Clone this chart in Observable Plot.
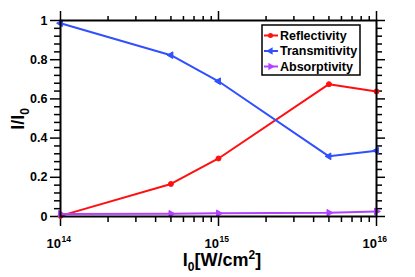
<!DOCTYPE html>
<html><head><meta charset="utf-8">
<script src="https://cdn.jsdelivr.net/npm/d3@7"></script>
<script src="https://cdn.jsdelivr.net/npm/@observablehq/plot@0.6"></script>
<style>
body{margin:0;background:#fff;}
#chart{width:415px;height:277px;}
</style></head><body><div id="chart"></div>
<script>
const intensity = [1e14, 5e14, 1e15, 5e15, 1e16];
const reflectivity = [0.003, 0.166, 0.296, 0.675, 0.638];
const transmitivity = [0.986, 0.823, 0.690, 0.307, 0.336];
const absorptivity = [0.013, 0.014, 0.016, 0.019, 0.026];

const seriesNames = ["Reflectivity", "Transmitivity", "Absorptivity"];
const seriesColors = ["#ff1010", "#3050ff", "#b440ff"];
const seriesSymbols = ["circle", "triangle", "triangle"];
const seriesRotate = [0, -90, 90];

const xTicks = [1e14, 1e15, 1e16];
const xTickBase = ["10", "10", "10"];
const xTickExp = ["14", "15", "16"];
const yTicks = [0, 0.2, 0.4, 0.6, 0.8, 1];
const yTickLabels = ["0", "0.2", "0.4", "0.6", "0.8", "1"];
const xMinorMult = [2, 3, 4, 5, 6, 7, 8, 9];
const yMinorStep = 0.04;

const FONT = '"Liberation Sans", Arial, Helvetica, sans-serif';

const allValues = [reflectivity, transmitivity, absorptivity];
const rows = [];
seriesNames.forEach((name, i) => {
  intensity.forEach((x, j) => rows.push({series: name, x, y: allValues[i][j], idx: i}));
});

const xMinor = [];
[1e14, 1e15].forEach(dec => xMinorMult.forEach(m => xMinor.push(m * dec)));
const yMinor = d3.range(0, 1 + 1e-9, yMinorStep).filter(v => Math.abs(v * 5 - Math.round(v * 5)) > 1e-6);

const plot = Plot.plot({
  width: 415, height: 277,
  marginLeft: 60, marginRight: 39, marginTop: 20, marginBottom: 61,
  style: {fontFamily: FONT, fontSize: "12px", fontWeight: "bold", background: "white", color: "black", overflow: "visible"},
  x: {type: "log", domain: [1e14, 1e16], label: null},
  y: {domain: [0, 1], label: null},
  color: {domain: seriesNames, range: seriesColors},
  symbol: {domain: seriesNames, range: seriesSymbols},
  marks: [
    Plot.axisY({ticks: yMinor, anchor: "left", tickSize: 6, tickFormat: () => "", label: null, strokeWidth: 1.5}),
    Plot.axisY({ticks: yTicks, anchor: "left", tickSize: 10, tickPadding: 3, tickFormat: (d) => yTickLabels[yTicks.indexOf(d)], label: null, strokeWidth: 1.5, fontSize: 12.5}),
    Plot.axisY({ticks: yMinor, anchor: "right", tickSize: 5, tickFormat: () => "", label: null, strokeWidth: 1.5}),
    Plot.axisY({ticks: yTicks, anchor: "right", tickSize: 8, tickFormat: () => "", label: null, strokeWidth: 1.5}),
    Plot.axisX({ticks: xMinor, anchor: "bottom", tickSize: 6, tickFormat: () => "", label: null, strokeWidth: 1.5}),
    Plot.axisX({ticks: xTicks, anchor: "bottom", tickSize: 10, tickFormat: () => "", label: null, strokeWidth: 1.5}),
    Plot.axisX({ticks: xMinor, anchor: "top", tickSize: 5, tickFormat: () => "", label: null, strokeWidth: 1.5}),
    Plot.axisX({ticks: xTicks, anchor: "top", tickSize: 10, tickFormat: () => "", label: null, strokeWidth: 1.5}),
    Plot.text(xTicks, {x: d => d, frameAnchor: "bottom", text: (d, i) => xTickBase[i], textAnchor: "end", lineAnchor: "bottom", dy: 31, dx: 0.5, fontSize: 13, fontWeight: "bold"}),
    Plot.text(xTicks, {x: d => d, frameAnchor: "bottom", text: (d, i) => xTickExp[i], textAnchor: "start", lineAnchor: "bottom", dy: 25.5, dx: 1, fontSize: 8.5, fontWeight: "bold"}),
    Plot.line(rows, {x: "x", y: "y", z: "series", stroke: "series", strokeWidth: 2}),
    Plot.dot(rows, {x: "x", y: "y", fill: "series", stroke: "series", symbol: "series", rotate: d => seriesRotate[d.idx], r: 2.5, strokeWidth: 1}),
    Plot.frame({stroke: "black", strokeWidth: 2})
  ]
});
document.getElementById("chart").append(plot);

const svg = d3.select(plot);
// axis titles
const xt = svg.append("text").attr("x", 222).attr("y", 266).attr("text-anchor", "middle")
  .attr("font-family", FONT).attr("font-weight", "bold").attr("font-size", 18).attr("fill", "black");
xt.append("tspan").text("I");
xt.append("tspan").attr("dy", 5).attr("font-size", 12).text("0");
xt.append("tspan").attr("dy", -5).text("[W/cm");
xt.append("tspan").attr("dy", -7).attr("font-size", 12).text("2");
xt.append("tspan").attr("dy", 7).text("]");

const yt = svg.append("text").attr("transform", "translate(24,119) rotate(-90)").attr("text-anchor", "middle")
  .attr("font-family", FONT).attr("font-weight", "bold").attr("font-size", 18).attr("fill", "black");
yt.append("tspan").text("I/I");
yt.append("tspan").attr("dy", 5).attr("font-size", 12).text("0");

// legend
const lg = svg.append("g").attr("text-anchor", "start");
lg.append("rect").attr("x", 262).attr("y", 25).attr("width", 98).attr("height", 50)
  .attr("fill", "white").attr("stroke", "black").attr("stroke-width", 1.5);
seriesNames.forEach((name, i) => {
  const cy = 35.5 + i * 15.5;
  lg.append("line").attr("x1", 264).attr("x2", 278).attr("y1", cy).attr("y2", cy)
    .attr("stroke", seriesColors[i]).attr("stroke-width", 2);
  const sym = i === 0 ? d3.symbolCircle : d3.symbolTriangle;
  lg.append("path").attr("d", d3.symbol(sym, i === 0 ? 20 : 24)())
    .attr("transform", `translate(270.5,${cy}) rotate(${seriesRotate[i]})`).attr("fill", seriesColors[i]);
  lg.append("text").attr("x", 280).attr("y", cy).attr("dy", "0.35em").attr("text-anchor", "start")
    .attr("font-family", FONT).attr("font-weight", "bold").attr("font-size", 12.5).attr("fill", "black").text(name);
});
</script></body></html>
